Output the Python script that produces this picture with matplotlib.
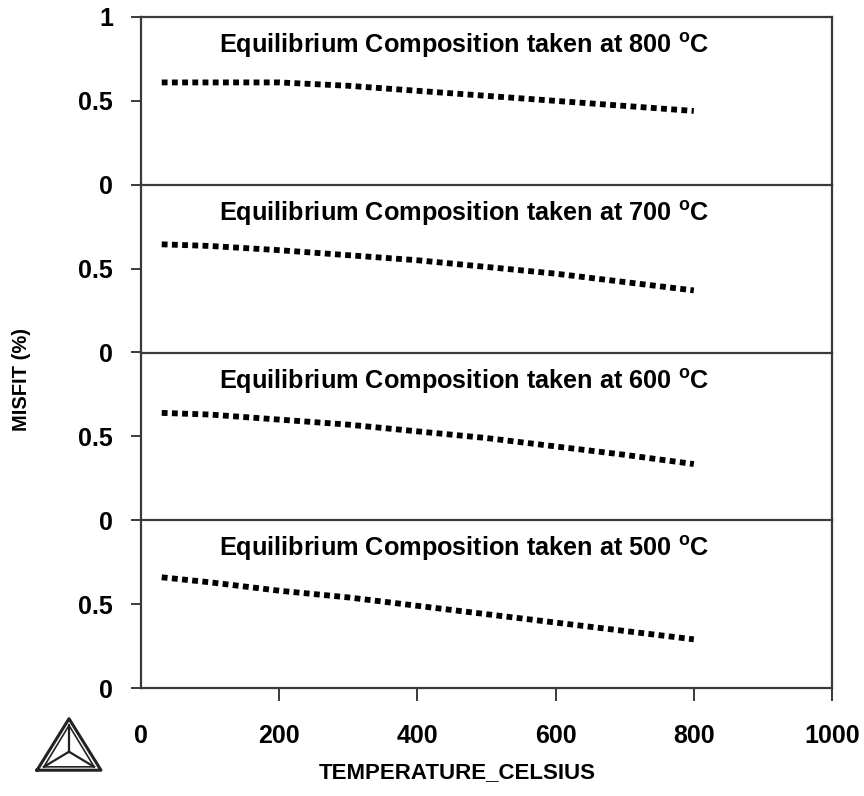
import matplotlib.pyplot as plt
from matplotlib.lines import Line2D

plt.rcParams['font.family'] = ['Liberation Sans', 'DejaVu Sans']
plt.rcParams['font.weight'] = 'bold'
plt.rcParams['mathtext.fontset'] = 'custom'
plt.rcParams['mathtext.rm'] = 'Liberation Sans:bold'
plt.rcParams['mathtext.default'] = 'rm'

# misfit vs temperature, one curve per equilibrium temperature
temperature = [30, 100, 200, 250, 300, 400, 500, 600, 700, 800]
misfit_800 = [0.61, 0.61, 0.61, 0.60, 0.59, 0.56, 0.53, 0.50, 0.47, 0.44]
misfit_700 = [0.645, 0.635, 0.61, 0.595, 0.58, 0.55, 0.51, 0.47, 0.42, 0.37]
misfit_600 = [0.64, 0.63, 0.60, 0.585, 0.57, 0.53, 0.49, 0.44, 0.39, 0.335]
misfit_500 = [0.66, 0.63, 0.58, 0.56, 0.54, 0.49, 0.44, 0.39, 0.34, 0.29]

panels = [(800, misfit_800), (700, misfit_700), (600, misfit_600), (500, misfit_500)]
x_ticks = [0, 200, 400, 600, 800, 1000]

fig = plt.figure(figsize=(8.64, 7.96), dpi=100)
left, right = 141 / 864, 832 / 864
top, bottom = 1 - 17 / 796, 1 - 688 / 796
h = (top - bottom) / 4
frame = '#3a3a3a'

for i, (teq, misfit) in enumerate(panels):
    ax = fig.add_axes([left, top - (i + 1) * h, right - left, h])
    ax.plot(temperature, misfit, color='black', lw=4.2,
            linestyle=(0, (1, 0.75)), dash_capstyle='butt')
    ax.set_xlim(0, 1000)
    ax.set_ylim(0, 1)
    ax.set_yticks([0, 0.5, 1] if i == 0 else [0, 0.5])
    ax.set_yticklabels(['0', '0.5', '1'] if i == 0 else ['0', '0.5'])
    for s in ax.spines.values():
        s.set_color(frame)
        s.set_linewidth(1.6)
    if i < 3:
        ax.spines['bottom'].set_visible(False)
    ax.tick_params(axis='y', direction='out', length=7, width=1.4, color=frame,
                   labelsize=18, pad=13)
    if i == 3:
        ax.set_xticks(x_ticks)
        ax.set_xticklabels([str(v) for v in x_ticks])
        ax.tick_params(axis='x', direction='out', length=9, width=1.4, color=frame,
                       labelsize=18, pad=17)
        ax.get_xticklines()[0].set_visible(False)
    else:
        ax.set_xticks([])
    ax.text(0.468, 0.83, 'Equilibrium Composition taken at %d $^{o}$C' % teq,
            transform=ax.transAxes, ha='center', va='center', fontsize=18.2,
            fontweight='bold')

fig.text(22 / 864, 1 - 380 / 796, 'MISFIT (%)', rotation=90, ha='center',
         va='center', fontsize=14.5, fontweight='bold')
fig.text(457 / 864, 1 - 773 / 796, 'TEMPERATURE_CELSIUS', ha='center',
         va='center', fontsize=16, fontweight='bold')

# triangle logo in the lower left corner
logo = fig.add_axes([35 / 864, 1 - 773 / 796, 68 / 864, 56 / 796])
logo.set_xlim(0, 1)
logo.set_ylim(0, 1)
logo.axis('off')
outer = [(0.03, 0.05), (0.97, 0.05), (0.5, 0.97), (0.03, 0.05)]
inner = [(0.13, 0.11), (0.87, 0.11), (0.5, 0.85), (0.13, 0.11)]
for pts, lw in [(outer, 2.2), (inner, 1.2)]:
    logo.add_line(Line2D([p[0] for p in pts], [p[1] for p in pts],
                         color='#222222', lw=lw))
centre = (0.5, 0.38)
for p in [(0.5, 0.85), (0.13, 0.11), (0.87, 0.11)]:
    logo.add_line(Line2D([centre[0], p[0]], [centre[1], p[1]],
                         color='#222222', lw=1.6))

fig.savefig('out.png', dpi=100)
